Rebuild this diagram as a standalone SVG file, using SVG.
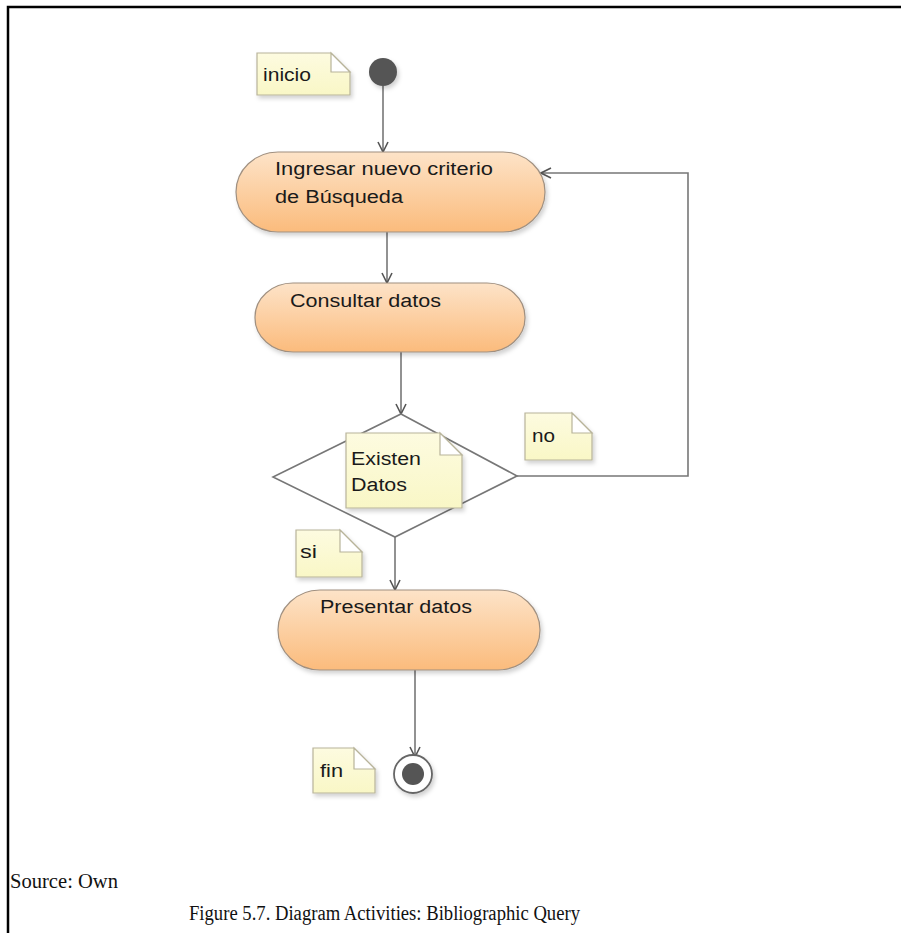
<svg xmlns="http://www.w3.org/2000/svg" width="901" height="933" viewBox="0 0 901 933">
<defs>
<linearGradient id="act" x1="0" y1="0" x2="0" y2="1">
<stop offset="0" stop-color="#fde3c8"/>
<stop offset="1" stop-color="#fbbb7c"/>
</linearGradient>
<linearGradient id="note" x1="0" y1="0" x2="0" y2="1">
<stop offset="0" stop-color="#fdfbe0"/>
<stop offset="1" stop-color="#f9f7c6"/>
</linearGradient>
<filter id="sh" x="-20%" y="-20%" width="140%" height="150%">
<feDropShadow dx="2" dy="3" stdDeviation="2" flood-color="#000" flood-opacity="0.18"/>
</filter>
<marker id="arr" viewBox="0 0 12 12" refX="11" refY="6" markerWidth="12" markerHeight="12" markerUnits="userSpaceOnUse" orient="auto">
<path d="M1,1 L11,6 L1,11" fill="none" stroke="#555" stroke-width="1.6"/>
</marker>
<style>
.act{fill:url(#act);stroke:#a09080;stroke-width:1.2;filter:url(#sh)}
.note{fill:url(#note);stroke:#b8b49a;stroke-width:1.2;filter:url(#sh)}
.fold{fill:#fff;stroke:#b8b49a;stroke-width:1.2}
.t{font-family:"Liberation Sans",Arial,sans-serif;font-size:18px;fill:#1a1a1a}
.c{stroke:#777;stroke-width:1.6;fill:none}
.cap{font-family:"Liberation Serif","Times New Roman",serif;font-size:20px;fill:#111}
</style>
</defs>
<rect x="0" y="0" width="901" height="933" fill="#fff"/>
<path d="M8,933 L8,7 L901,7" fill="none" stroke="#000" stroke-width="2.5"/>

<g id="connectors">
<line class="c" x1="383" y1="86" x2="383" y2="152" marker-end="url(#arr)"/>
<line class="c" x1="387" y1="232" x2="387" y2="283" marker-end="url(#arr)"/>
<line class="c" x1="401" y1="352" x2="401" y2="414" marker-end="url(#arr)"/>
<polyline class="c" points="517,476 688,476 688,173 541,173" marker-end="url(#arr)"/>
<line class="c" x1="395" y1="537" x2="395" y2="590" marker-end="url(#arr)"/>
<line class="c" x1="415" y1="670" x2="415" y2="757" marker-end="url(#arr)"/>
</g>

<g id="start">
<circle cx="383" cy="72" r="14" fill="#555" filter="url(#sh)"/>
</g>
<g id="note-inicio">
<path class="note" d="M257,53 L331,53 L350,72 L350,95 L257,95 Z"/>
<path class="fold" d="M331,53 L331,72 L350,72 Z"/>
<text class="t" x="263" y="81" textLength="48" lengthAdjust="spacingAndGlyphs">inicio</text>
</g>

<g id="act-ingresar">
<rect class="act" x="236" y="152" width="309" height="80" rx="42" ry="40"/>
<text class="t" x="275" y="175" textLength="218" lengthAdjust="spacingAndGlyphs">Ingresar nuevo criterio</text>
<text class="t" x="275" y="203" textLength="128" lengthAdjust="spacingAndGlyphs">de Búsqueda</text>
</g>

<g id="act-consultar">
<rect class="act" x="255" y="283" width="270" height="69" rx="38" ry="34"/>
<text class="t" x="290" y="307" textLength="151" lengthAdjust="spacingAndGlyphs">Consultar datos</text>
</g>

<g id="decision">
<polygon points="401,414 517,476 395,537 273,477" fill="#fff" stroke="#777" stroke-width="1.6"/>
</g>
<g id="note-existen">
<path class="note" d="M346,433 L440,433 L462,455 L462,508 L346,508 Z"/>
<path class="fold" d="M440,433 L440,455 L462,455 Z"/>
<text class="t" x="351" y="465" textLength="70" lengthAdjust="spacingAndGlyphs">Existen</text>
<text class="t" x="351" y="491" textLength="56" lengthAdjust="spacingAndGlyphs">Datos</text>
</g>

<g id="note-no">
<path class="note" d="M525,413 L572,413 L592,433 L592,460 L525,460 Z"/>
<path class="fold" d="M572,413 L572,433 L592,433 Z"/>
<text class="t" x="532" y="442" textLength="23" lengthAdjust="spacingAndGlyphs">no</text>
</g>

<g id="note-si">
<path class="note" d="M296,530 L340,530 L362,552 L362,577 L296,577 Z"/>
<path class="fold" d="M340,530 L340,552 L362,552 Z"/>
<text class="t" x="300" y="558" textLength="17" lengthAdjust="spacingAndGlyphs">si</text>
</g>

<g id="act-presentar">
<rect class="act" x="278" y="590" width="262" height="80" rx="42" ry="40"/>
<text class="t" x="320" y="613" textLength="152" lengthAdjust="spacingAndGlyphs">Presentar datos</text>
</g>

<g id="end">
<circle cx="413" cy="774" r="19" fill="#fff" stroke="#666" stroke-width="1.8" filter="url(#sh)"/>
<circle cx="413" cy="774" r="11" fill="#555"/>
</g>
<g id="note-fin">
<path class="note" d="M313,748 L354,748 L375,769 L375,793 L313,793 Z"/>
<path class="fold" d="M354,748 L354,769 L375,769 Z"/>
<text class="t" x="320" y="777" textLength="23" lengthAdjust="spacingAndGlyphs">fin</text>
</g>

<text class="cap" x="10" y="888" textLength="108" lengthAdjust="spacingAndGlyphs">Source: Own</text>
<text class="cap" x="189" y="920" textLength="391" lengthAdjust="spacingAndGlyphs">Figure 5.7. Diagram Activities: Bibliographic Query</text>
</svg>
